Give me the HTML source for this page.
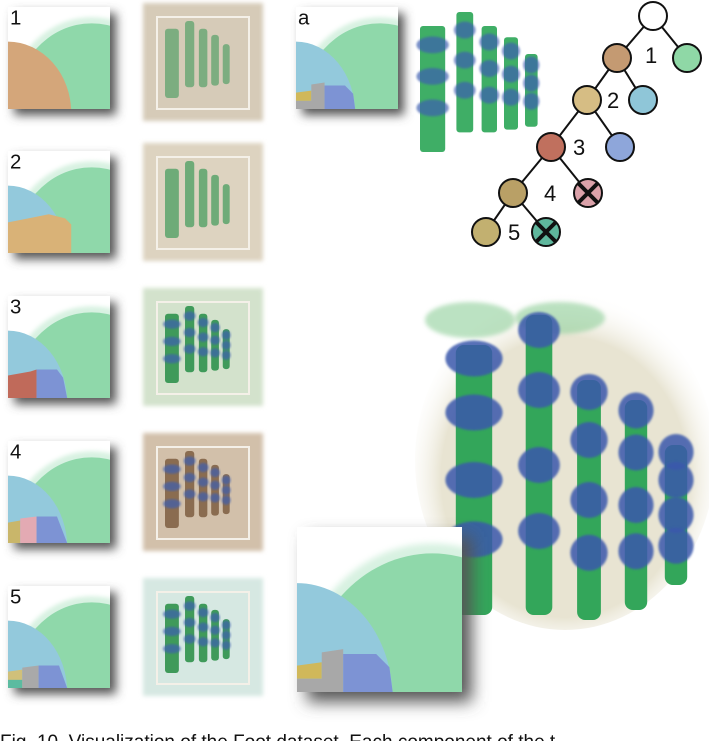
<!DOCTYPE html>
<html><head><meta charset="utf-8"><style>
html,body{margin:0;padding:0;background:#fff;width:709px;height:741px;overflow:hidden}
svg{display:block}
text{font-family:"Liberation Sans",sans-serif}
</style></head><body>
<svg id="fig" width="709" height="741" viewBox="0 0 709 741">
<defs>
<filter id="sh" x="-30%" y="-30%" width="170%" height="170%"><feGaussianBlur stdDeviation="5"/></filter>
<filter id="bl" x="-30%" y="-30%" width="160%" height="160%"><feGaussianBlur stdDeviation="2"/></filter>
<filter id="bl1"><feGaussianBlur stdDeviation="1"/></filter>
<radialGradient id="halo" cx="50%" cy="55%" r="55%"><stop offset="0.75" stop-color="#e8e4d2"/><stop offset="1" stop-color="#fff" stop-opacity="0"/></radialGradient>
</defs>
<g id="hists"></g>
<g id="boxes"></g>
<g id="feet"></g>
<g id="tree"></g>
<text x="0" y="748" font-size="19" fill="#111">Fig. 10. Visualization of the Foot dataset. Each component of the t</text>
</svg>
<script>
const NS='http://www.w3.org/2000/svg';
function mk(tag,attrs,parent){const e=document.createElementNS(NS,tag);for(const k in attrs)e.setAttribute(k,attrs[k]);parent.appendChild(e);return e;}
function drawFoot(g,x,y,sc,op,blue,green){
 const toes=[[0,10,18,90],[26,0,12,86],[44,10,11,76],[60,18,10,66],[75,30,9,52]];
 toes.forEach(t=>{
  mk('rect',{x:x+t[0]*sc*1.4,y:y+t[1]*sc*1.4,width:t[2]*sc*1.4,height:t[3]*sc*1.4,rx:3,fill:green,opacity:op},g);
  if(blue){[0.15,0.4,0.65].forEach(f=>mk('ellipse',{cx:x+(t[0]+t[2]/2)*sc*1.4,cy:y+(t[1]+t[3]*f)*sc*1.4,rx:t[2]*sc*0.9,ry:6*sc*1.4,fill:'#3d5fb0',opacity:0.7,filter:'url(#bl1)'},g));}
 });
}
const histPanels=[[8,7,102,'1',1],[8,151,102,'2',2],[8,296,102,'3',3],[8,441,102,'4',4],[8,586,102,'5',5],[296,7,102,'a',6],[297,527,165,'',6]];
const colTan='#d4a67a',colBlue='#93c9dc',colGreen='#8fd8aa';
const H=document.getElementById('hists');
histPanels.forEach((p,i)=>{
 const [x,y,s,lab,k]=p;
 const g=mk('g',{transform:`translate(${x},${y}) scale(${s/100})`},H);
 
 
 mk('rect',{x:6,y:6,width:100,height:100,fill:'#555',filter:'url(#sh)'},g);
 mk('rect',{x:0,y:0,width:100,height:100,fill:'#fff'},g);
 const cp='cp'+i;
 const c=mk('clipPath',{id:cp},g);mk('rect',{x:0,y:0,width:100,height:100},c);
 const cg=mk('g',{'clip-path':`url(#${cp})`},g);
 mk('ellipse',{cx:82,cy:104,rx:84,ry:94,fill:colGreen,opacity:0.35,filter:'url(#bl)'},cg);
 mk('ellipse',{cx:82,cy:104,rx:78,ry:88,fill:colGreen},cg);
 if(k===1){mk('ellipse',{cx:0,cy:104,rx:62,ry:70,fill:colTan},cg);}
 else{
  mk('ellipse',{cx:0,cy:104,rx:58,ry:70,fill:colBlue},cg);
  if(k===2)mk('path',{d:'M0 70 L20 66 L40 62 L56 66 L62 72 L62 100 L0 100Z',fill:'#d9b277'},cg);
  if(k===3){mk('path',{d:'M0 78 L22 74 L28 72 L28 100 L0 100Z',fill:'#c06a5a'},cg);mk('path',{d:'M28 72 L48 72 L54 80 L58 100 L28 100Z',fill:'#7d93d4'},cg);}
  if(k===4){mk('path',{d:'M0 80 L12 78 L12 100 L0 100Z',fill:'#c9b66a'},cg);mk('path',{d:'M12 76 L28 74 L28 100 L12 100Z',fill:'#e3aab3'},cg);mk('path',{d:'M28 74 L48 74 L58 100 L28 100Z',fill:'#7d93d4'},cg);}
  if(k===5){mk('path',{d:'M0 84 L14 82 L14 100 L0 100Z',fill:'#d0c07a'},cg);mk('path',{d:'M0 92 L14 92 L14 100 L0 100Z',fill:'#5cbba0'},cg);mk('path',{d:'M14 80 L30 78 L30 100 L14 100Z',fill:'#a9a9a9'},cg);mk('path',{d:'M30 78 L50 78 L58 100 L30 100Z',fill:'#7d93d4'},cg);}
  if(k===6){mk('path',{d:'M0 84 L15 82 L15 92 L0 92Z',fill:'#d0b85a'},cg);mk('path',{d:'M15 76 L28 74 L28 100 L0 100 L0 92 L15 92Z',fill:'#a8a8a8'},cg);mk('path',{d:'M28 77 L48 77 L56 85 L58 100 L28 100Z',fill:'#7d93d4'},cg);}
 }
 if(lab){const t=mk('text',{x:2,y:17,'font-size':20,fill:'#111'},g);t.textContent=lab;}
});
const boxes=[[143,3,'#d6cbb8'],[143,143,'#ddd3c0'],[143,288,'#d3e2cc'],[143,433,'#d2c0aa'],[143,578,'#d6e8e2']];
const B=document.getElementById('boxes');
boxes.forEach((b,i)=>{
 const [x,y,col]=b;
 const g=mk('g',{},B);
 
 
 mk('rect',{x:x,y:y,width:120,height:118,fill:col,filter:'url(#bl)'},g);
 mk('rect',{x:x+14,y:y+14,width:92,height:92,fill:col,stroke:'#f4f0e8','stroke-width':2},g);
 drawFoot(g,x+22,y+18,0.55,i===0?0.6:(i===1?0.7:1),i>=2,i===3?'#8a6c50':'#3f9a5a');
});
const F=document.getElementById('feet');
const sf=mk('g',{},F);


drawFoot(sf,420,12,1.0,1,true,'#3fae66');
const lf=mk('g',{},F);


mk('ellipse',{cx:565,cy:460,rx:150,ry:170,fill:'url(#halo)'},lf);
mk('ellipse',{cx:470,cy:320,rx:45,ry:18,fill:'#8fcf9a',opacity:0.6,filter:'url(#bl)'},lf);
mk('ellipse',{cx:560,cy:318,rx:45,ry:16,fill:'#8fcf9a',opacity:0.6,filter:'url(#bl)'},lf);
const bigToes=[[448,345,52,270],[520,315,38,300],[572,380,34,240],[620,400,32,210],[660,445,32,140]];
bigToes.forEach(t=>{
 const [x,y,w,h]=t;
 mk('rect',{x:x+w*0.15,y:y,width:w*0.7,height:h,rx:8,fill:'#33a65a'},lf);
 [0.05,0.25,0.5,0.72].forEach(f=>mk('ellipse',{cx:x+w/2,cy:y+h*f,rx:w*0.55,ry:18,fill:'#3a58ac',opacity:0.85,filter:'url(#bl1)'},lf));
});
// redraw large histogram on top of large foot
const HL=document.getElementById('hists');document.getElementById('fig').appendChild(HL.lastElementChild);
const T=document.getElementById('tree');
const nodes=[[653,16,'#fff'],[687,58,'#8fd8a6'],[617,58,'#c49a72'],[587,100,'#d6bd84'],[643,100,'#8fc6d8'],[551,147,'#c0705e'],[620,147,'#8ea6da'],[513,193,'#b9a066'],[588,193,'#dba2aa'],[486,232,'#c2b070'],[546,232,'#5fb79d']];
const edges=[[0,1],[0,2],[2,3],[2,4],[3,5],[3,6],[5,7],[5,8],[7,9],[7,10]];
edges.forEach(e=>{const a=nodes[e[0]],b=nodes[e[1]];const l=mk('line',{x1:a[0],y1:a[1],x2:b[0],y2:b[1],stroke:'#111','stroke-width':2},T);});
nodes.forEach((n,i)=>{
 const c=mk('circle',{cx:n[0],cy:n[1],r:14,fill:n[2],stroke:'#111','stroke-width':2},T);
 
 
 if(i===8||i===10){mk('path',{d:`M${n[0]-10} ${n[1]-10}L${n[0]+10} ${n[1]+10}M${n[0]+10} ${n[1]-10}L${n[0]-10} ${n[1]+10}`,stroke:'#111','stroke-width':4},T);}
});
const labs=[[645,63,'1'],[607,108,'2'],[573,155,'3'],[544,201,'4'],[508,240,'5']];
labs.forEach(l=>{const t=mk('text',{x:l[0],y:l[1],'font-size':22,fill:'#111'},T);t.textContent=l[2];});
</script>
</body></html>
